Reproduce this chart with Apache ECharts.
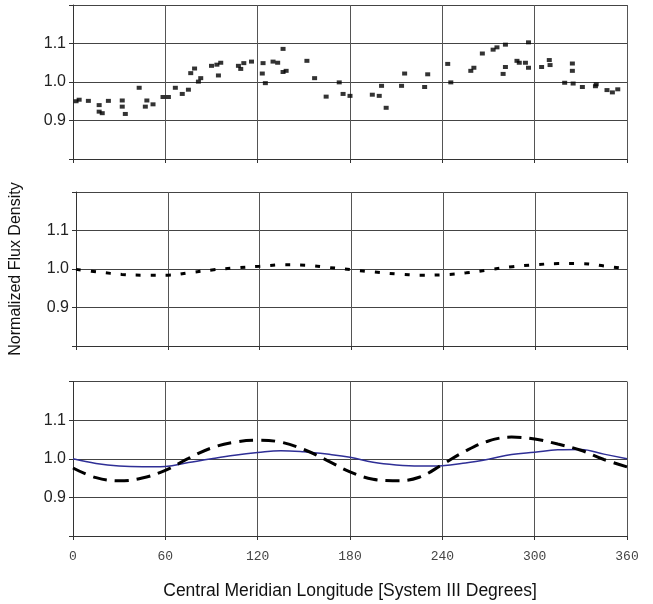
<!DOCTYPE html>
<html><head><meta charset="utf-8">
<script src="https://cdn.jsdelivr.net/npm/echarts/dist/echarts.min.js"></script>
<style>html,body{margin:0;padding:0;background:#fff}#c{width:653px;height:604px}</style>
</head><body><div id="c"></div>
<script>
// Observed normalized flux density (top panel)
const obsLon = [2,4,10,17,17,19,23,32,32,34,43,47,48,52,58.5,62,66.5,71,75,76.5,79,81.5,83,90,93.5,96,94.5,107.5,109,111,116,123.5,123,125,130,133,136.5,136.5,138.5,152,157,164.5,173,175.5,180,194.5,199,200.5,203.5,213.5,215.5,228.5,230.5,243.5,245.5,258.5,260.5,266,273,275.5,281,279.5,281,288.5,290,294,296,296,304.5,309.5,310,324.5,324.5,319.5,325,331,339.5,340,347,350.5,354];
const obsFlux = [0.950,0.954,0.951,0.940,0.923,0.919,0.951,0.952,0.936,0.917,0.985,0.936,0.952,0.942,0.961,0.961,0.985,0.969,0.980,1.023,1.035,1.001,1.010,1.042,1.045,1.050,1.017,1.042,1.034,1.049,1.053,1.049,1.022,0.997,1.053,1.050,1.086,1.026,1.029,1.055,1.010,0.962,0.999,0.969,0.964,0.967,0.964,0.990,0.933,0.990,1.022,0.987,1.020,1.047,0.999,1.029,1.037,1.074,1.084,1.090,1.097,1.021,1.039,1.055,1.050,1.050,1.103,1.037,1.039,1.057,1.044,1.048,1.029,0.998,0.996,0.987,0.989,0.994,0.979,0.973,0.981];

// Model curves (middle and bottom panels)
const modelLon = [0,15,30,45,60,75,90,105,120,135,150,165,180,195,210,225,240,255,270,285,300,315,330,345,360];
const modelDotted = [0.999,0.992,0.986,0.984,0.984,0.991,0.998,1.003,1.007,1.011,1.010,1.004,0.998,0.992,0.987,0.984,0.985,0.990,0.998,1.006,1.011,1.014,1.014,1.008,1.000];
const modelBlue = [1.000,0.988,0.981,0.979,0.980,0.990,1.000,1.009,1.016,1.021,1.018,1.012,1.004,0.991,0.984,0.981,0.982,0.989,0.999,1.011,1.017,1.023,1.024,1.012,1.000];
const modelDashed = [0.976,0.951,0.943,0.950,0.970,1.001,1.028,1.043,1.048,1.043,1.024,0.996,0.966,0.947,0.943,0.952,0.985,1.020,1.046,1.056,1.051,1.038,1.022,0.998,0.979];

const yLabels = ['0.9','1.0','1.1'];
const xTitle = 'Central Meridian Longitude [System III Degrees]';
const yTitle = 'Normalized Flux Density';

const pair = (xs, ys) => xs.map((x, i) => [x, ys[i]]);

const grids = [
  {left: 73, width: 554, top: 5, height: 154},
  {left: 73, width: 554, top: 192, height: 154},
  {left: 73, width: 554, top: 381.5, height: 154.5}
];

const xAxes = grids.map((g, i) => ({
  type: 'value', gridIndex: i, min: 0, max: 360, interval: 60,
  axisLine: {onZero: false, lineStyle: {color: '#333', width: 1}},
  axisTick: {show: true, length: 4, lineStyle: {color: '#333'}},
  axisLabel: {show: i === 2, margin: 14, color: '#444', fontFamily: 'Liberation Mono', fontSize: 13},
  splitLine: {show: true, lineStyle: {color: '#555', width: 1}},
  name: i === 2 ? xTitle : '', nameLocation: 'middle', nameGap: 46,
  nameTextStyle: {fontFamily: 'Liberation Sans', fontSize: 17.5, color: '#111'}
}));

const yAxes = grids.map((g, i) => ({
  type: 'value', gridIndex: i, min: 0.8, max: 1.2, interval: 0.1,
  axisLine: {show: true, lineStyle: {color: '#333', width: 1}},
  axisTick: {show: true, length: 4, lineStyle: {color: '#333'}},
  axisLabel: {
    margin: 7, color: '#222', fontFamily: 'Liberation Sans', fontSize: 16,
    formatter: v => { const s = v.toFixed(1); return yLabels.includes(s) ? s : ''; }
  },
  splitLine: {show: true, lineStyle: {color: '#444', width: 1}},
  name: i === 1 ? yTitle : '', nameLocation: 'middle', nameGap: 52,
  nameTextStyle: {fontFamily: 'Liberation Sans', fontSize: 16, color: '#111'}
}));

const chart = echarts.init(document.getElementById('c'), null, {renderer: 'canvas'});
chart.setOption({
  animation: false,
  backgroundColor: '#fff',
  grid: grids,
  xAxis: xAxes,
  yAxis: yAxes,
  series: [
    {type: 'scatter', xAxisIndex: 0, yAxisIndex: 0, data: pair(obsLon, obsFlux),
     symbol: 'rect', symbolSize: [5, 4], itemStyle: {color: '#000'}},
    {type: 'line', xAxisIndex: 1, yAxisIndex: 1, data: pair(modelLon, modelDotted),
     showSymbol: false, smooth: 0.4,
     lineStyle: {color: '#000', width: 3, type: [5, 10], cap: 'butt'}},
    {type: 'line', xAxisIndex: 2, yAxisIndex: 2, data: pair(modelLon, modelBlue),
     showSymbol: false, smooth: 0.4,
     lineStyle: {color: '#2f2f96', width: 1.5}},
    {type: 'line', xAxisIndex: 2, yAxisIndex: 2, data: pair(modelLon, modelDashed),
     showSymbol: false, smooth: 0.4,
     lineStyle: {color: '#000', width: 3, type: [14, 8], cap: 'butt'}}
  ]
});
</script>
</body></html>
